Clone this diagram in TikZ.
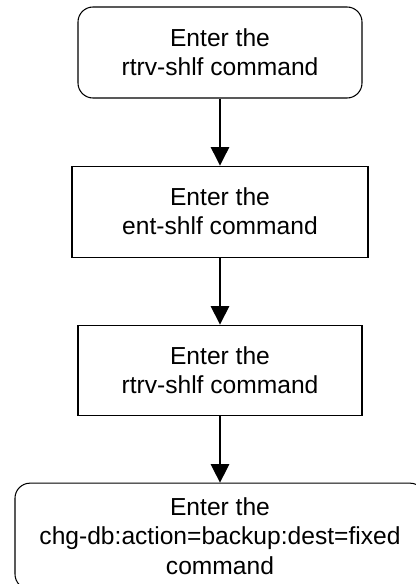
\documentclass[tikz,border=0pt]{standalone}
\usepackage{fontspec}
\setmainfont{Liberation Sans}
\usetikzlibrary{positioning,arrows.meta}
\begin{document}
\begin{tikzpicture}[
	node distance=1.34cm,
	every node/.style={font=\fontsize{14}{16.6}\selectfont, align=center, line width=0.6pt},
	endbox/.style={draw, rounded corners=0.3cm, minimum width=5.68cm, minimum height=1.82cm},
	cmdbox/.style={draw, minimum width=5.92cm, minimum height=1.82cm},
	flow/.style={line width=0.75pt, -{Triangle[length=0.37cm, width=0.37cm]}}]
	\useasboundingbox (0,0) rectangle (8.3,11.68);
	\node[endbox] (start) at (4.4,10.63) {Enter the\\rtrv-shlf command};
	\node[cmdbox, below=of start] (ent) {Enter the\\ent-shlf command};
	\node[cmdbox, minimum width=5.68cm, minimum height=1.8cm, below=of ent] (rtrv) {Enter the\\rtrv-shlf command};
	\node[endbox, minimum width=8.2cm, minimum height=2.12cm, below=of rtrv] (backup) {Enter the\\chg-db:action=backup:dest=fixed\\command};

	% arrows between the steps
	\draw[flow] (start) -- (ent);
	\draw[flow] (ent) -- (rtrv);
	\draw[flow] (rtrv) -- (backup);
\end{tikzpicture}
\end{document}
